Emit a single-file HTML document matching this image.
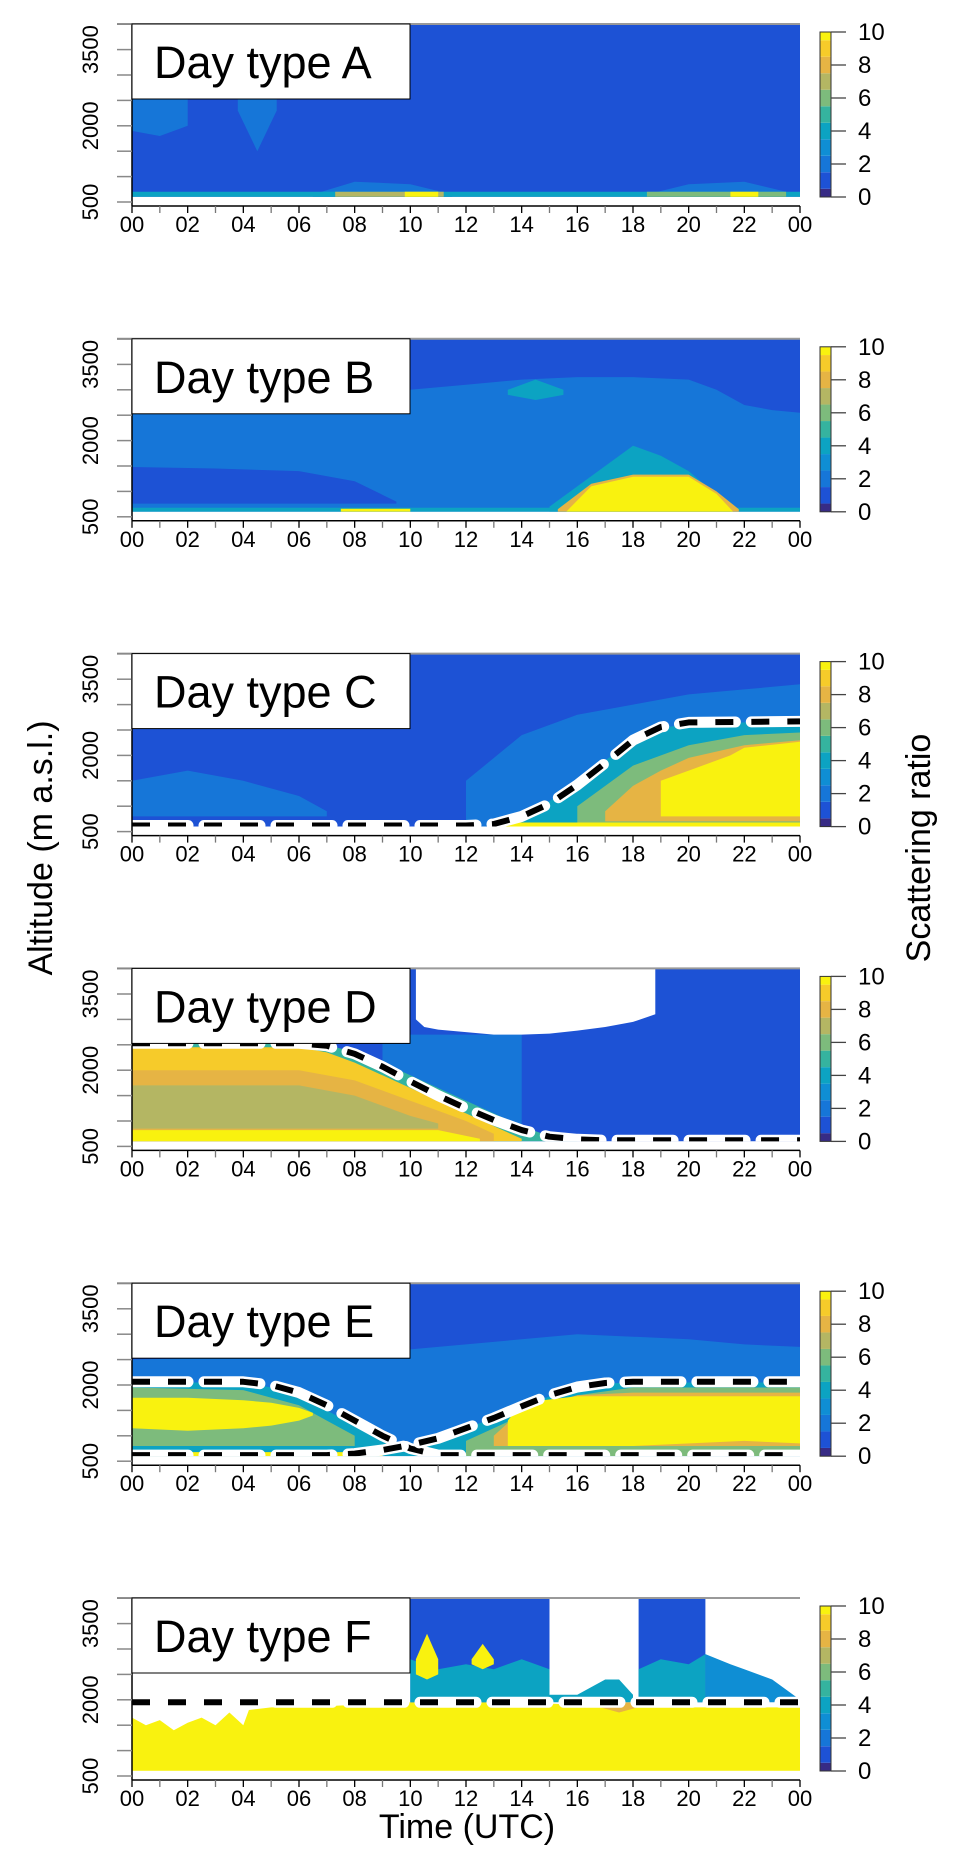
<!DOCTYPE html>
<html><head><meta charset="utf-8">
<style>
html,body{margin:0;padding:0;background:#fff;}
svg{display:block;font-family:"Liberation Sans",sans-serif;}
</style></head>
<body>
<svg id="chart" width="971" height="1872" viewBox="0 0 971 1872" xmlns="http://www.w3.org/2000/svg">
<text x="52" y="848" transform="rotate(-90 52 848)" text-anchor="middle" font-size="34">Altitude (m a.s.l.)</text>
<text x="930" y="848" transform="rotate(-90 930 848)" text-anchor="middle" font-size="34">Scattering ratio</text>
<text x="467" y="1838" text-anchor="middle" font-size="34">Time (UTC)</text>
</svg>
<script>
// ---- data ----
const panelNames = ["A","B","C","D","E","F"];
const hourTicks = [0,2,4,6,8,10,12,14,16,18,20,22,24];
const hourLabels = ["00","02","04","06","08","10","12","14","16","18","20","22","00"];
const altTicks = [500,1000,1500,2000,2500,3000,3500,4000];
const altLabels = [500,2000,3500];
const cbTicks = [0,2,4,6,8,10];
const colorLevels = ["#372b85","#1d52d5","#1676d8","#0f8ed4","#0ca3c2","#35b39f","#7dbb7c","#b4b663","#e6b444","#f6cb2a","#f9f20f"];
const backgroundValue = [1,1,1,1,1,null];

const layersA = [
 {v:2,t:[0,1,2],lo:[1900,1800,2000],hi:[2600,2600,2600]},
 {v:2,t:[3.8,4.5,5.2],lo:[2300,1500,2300],hi:[2600,2600,2600]},
 {v:2,t:[6.5,8,10,11.5],lo:[600,600,600,600],hi:[650,900,850,650]},
 {v:2,t:[18.5,20,22,23.5],lo:[600,600,600,600],hi:[650,850,900,700]},
 {v:4,t:[0,24],lo:[600,600],hi:[700,700]},
 {v:7,t:[7.3,11.2],lo:[600,600],hi:[700,700]},
 {v:10,t:[9.8,11],lo:[600,600],hi:[700,700]},
 {v:6,t:[18.5,23.5],lo:[600,600],hi:[700,700]},
 {v:10,t:[21.5,22.5],lo:[600,600],hi:[700,700]}
];
const layersB = [
 {v:2,t:[0,4,8,10,12,14,16,18,20,21,22,23,24],lo:[600,600,600,600,600,600,600,600,600,600,600,600,600],hi:[2550,2650,2900,3000,3100,3200,3250,3250,3200,3000,2700,2600,2550]},
 {v:1,t:[0,3,6,8,9.5],lo:[760,760,760,760,760],hi:[1480,1450,1400,1200,800]},
 {v:4,t:[13.5,14.5,15.5],lo:[2900,2800,2900],hi:[3000,3200,3000]},
 {v:4,t:[15,17,18,19,20,21.5],lo:[600,600,600,600,600,600],hi:[700,1500,1900,1700,1400,700]},
 {v:4,t:[0,24],lo:[600,600],hi:[680,680]},
 {v:8,t:[15.3,16.5,18,20,21,21.8],lo:[600,600,600,600,600,600],hi:[650,1150,1330,1330,1000,650]},
 {v:10,t:[15.6,16.5,18,20,21,21.6],lo:[600,600,600,600,600,600],hi:[600,1100,1290,1290,950,600]},
 {v:10,t:[7.5,10],lo:[600,600],hi:[660,660]}
];
const layersC = [
 {v:2,t:[0,2,4,6,7],lo:[800,800,800,800,800],hi:[1500,1700,1500,1200,900]},
 {v:2,t:[12,14,16,18,20,22,24],lo:[600,600,600,600,600,600,600],hi:[1500,2400,2800,3000,3200,3300,3400]},
 {v:4,t:[13,14,15,16,17,18,19,20,22,24],lo:[600,600,600,600,600,600,600,600,600,600],hi:[650,800,1100,1450,1900,2300,2550,2600,2650,2650]},
 {v:6,t:[16,18,20,22,24],lo:[600,600,600,600,600],hi:[1000,1800,2200,2400,2450]},
 {v:8,t:[17,18,19,20,22,24],lo:[700,700,700,700,700,700],hi:[900,1400,1700,1950,2200,2300]},
 {v:10,t:[19,20,21.5,22,24],lo:[800,800,800,800,800],hi:[1500,1700,2000,2150,2270]},
 {v:10,t:[13,24],lo:[600,600],hi:[680,680]}
];
const layersD = [
 {v:2,t:[9,12,14],lo:[600,600,600],hi:[2700,2700,2700]},
 {v:5,t:[0,6,7,8,9,10,11,12,13,14,15,16],lo:[600,600,600,600,600,600,600,600,600,600,600,600],hi:[2550,2550,2500,2350,2150,1900,1650,1400,1150,900,700,620]},
 {v:9,t:[0,6,7,8,9,10,11,12,13,14],lo:[600,600,600,600,600,600,600,600,600,600],hi:[2450,2450,2350,2150,1900,1650,1400,1150,900,650]},
 {v:8,t:[0,6,8,10,11,12,13],lo:[600,600,600,600,600,600,600],hi:[2000,2000,1800,1400,1200,1000,750]},
 {v:7,t:[0,6,8,9,10,11],lo:[850,850,850,850,850,850],hi:[1700,1700,1500,1300,1100,950]},
 {v:10,t:[0,11,12.5],lo:[600,600,600],hi:[820,820,650]},
 {v:null,t:[10.2,10.5,11,12,13,14,15,16,17,18,18.8],lo:[3000,2850,2800,2750,2700,2700,2720,2780,2850,2950,3100],hi:[4000,4000,4000,4000,4000,4000,4000,4000,4000,4000,4000]}
];
const layersE = [
 {v:2,t:[0,4,8,10,12,14,16,18,20,22,24],lo:[600,600,600,600,600,600,600,600,600,600,600],hi:[2500,2550,2600,2700,2800,2900,3000,2950,2900,2800,2750]},
 {v:4,t:[0,4,5,6,7,8,9,10],lo:[600,600,600,600,600,600,600,600],hi:[2050,2050,1950,1750,1500,1200,900,700]},
 {v:6,t:[0,4,6,7,8],lo:[800,800,800,800,800],hi:[1950,1900,1600,1300,1000]},
 {v:10,t:[0,2,4,5,6,6.5],lo:[1150,1100,1150,1200,1300,1400],hi:[1750,1750,1700,1650,1550,1450]},
 {v:4,t:[9,10,11,12,13,14,15,16,17,18,24],lo:[600,600,600,600,600,600,600,600,600,600,600],hi:[650,800,950,1150,1350,1550,1780,1950,2030,2050,2050]},
 {v:6,t:[12,14,16,18,24],lo:[600,600,600,600,600],hi:[900,1400,1800,1950,1950]},
 {v:8,t:[13,14,16,18,24],lo:[800,800,800,800,800],hi:[1000,1500,1800,1850,1850]},
 {v:10,t:[13.5,14,16,18,22,24],lo:[800,800,800,800,900,850],hi:[1300,1650,1780,1780,1780,1780]},
 {v:10,t:[0,9],lo:[600,600],hi:[680,680]}
];
const layersF = [
 {v:10,t:[0,0.5,1,1.5,2,2.5,3,3.5,4,4.2,5,6,8,10,12,14,16,18,20,22,24],lo:[600,600,600,600,600,600,600,600,600,600,600,600,600,600,600,600,600,600,600,600,600],hi:[1650,1500,1600,1400,1550,1650,1500,1750,1500,1800,1850,1850,1900,1950,1950,1950,1900,1850,1850,1850,1850]},
 {v:8,t:[16.5,17.5,18.5],lo:[1900,1750,1900],hi:[1950,1950,1950]},
 {v:1,t:[10,15],lo:[1950,1950],hi:[4000,4000]},
 {v:4,t:[10,11,12,13,14,15],lo:[1950,1950,1950,1950,1950,1950],hi:[2800,2600,2700,2600,2800,2600]},
 {v:10,t:[10.2,10.6,11],lo:[2500,2400,2500],hi:[2800,3300,2800]},
 {v:10,t:[12.2,12.6,13],lo:[2700,2600,2700],hi:[2800,3100,2800]},
 {v:4,t:[15,16,17,17.5,18],lo:[1950,1950,1950,1950,1950],hi:[2100,2100,2400,2400,2100]},
 {v:1,t:[18.2,20.6],lo:[1950,1950],hi:[4000,4000]},
 {v:4,t:[18.2,19,20,20.6],lo:[1950,1950,1950,1950],hi:[2600,2800,2700,2900]},
 {v:3,t:[20.6,21.5,22,23,23.5,24],lo:[1950,1950,1950,1950,1950,1950],hi:[2900,2700,2600,2400,2200,2000]}
];
const panelLayers = [layersA,layersB,layersC,layersD,layersE,layersF];

const lineC_t = [0,12,13,14,15,16,17,18,19,20,24];
const lineC_alt = [620,620,650,800,1050,1420,1850,2300,2560,2650,2670];
const lineD_t = [0,6,7,8,9,10,11,12,13,14,15,16,17,24];
const lineD_alt = [2530,2530,2480,2320,2070,1780,1500,1250,1020,820,690,640,620,620];
const lineE1_t = [0,4,5,6,7,8,9,10,11,24];
const lineE1_alt = [2063,2063,2000,1850,1600,1300,1000,750,620,620];
const lineE2_t = [0,7,8,9,10,11,12,13,14,15,16,17,18,24];
const lineE2_alt = [620,620,650,720,820,950,1150,1350,1580,1800,1960,2040,2063,2063];
const lineF_t = [0,24];
const lineF_alt = [1950,1950];
const panelLines = [[],[],[[lineC_t,lineC_alt]],[[lineD_t,lineD_alt]],[[lineE1_t,lineE1_alt],[lineE2_t,lineE2_alt]],[[lineF_t,lineF_alt]]];

// ---- layout ----
const NS="http://www.w3.org/2000/svg";
const svg=document.getElementById('chart');
const X0=132,X1=800,PH=314.8;
function panelTop(p){return 24+p*PH;}
function X(h){return X0+h*(X1-X0)/24;}
function Y(p,a){return panelTop(p)+178-(a-500)*0.0508;}
function CBY(p,v){return panelTop(p)+173-v*16.5;}
function col(v){return colorLevels[Math.max(0,Math.min(10,Math.round(v)))];}
function mk(tag,attrs,parent){const e=document.createElementNS(NS,tag);for(const k in attrs)e.setAttribute(k,attrs[k]);(parent||svg).appendChild(e);return e;}

panelNames.forEach((nm,p)=>{
  const T=panelTop(p);
  const g=mk('g',{});
  
  
  const cp=mk('clipPath',{id:'clip'+p},g);
  mk('rect',{x:X0,y:Y(p,4000),width:X1-X0,height:Y(p,600)-Y(p,4000)},cp);
  const hm=mk('g',{'clip-path':'url(#clip'+p+')'},g);
  
  
  if(backgroundValue[p]!==null){
    const r=mk('rect',{x:X(0),y:Y(p,4000),width:X(24)-X(0),height:Y(p,600)-Y(p,4000),fill:col(backgroundValue[p])},hm);
    
    
  }
  panelLayers[p].forEach((L,i)=>{
    let pts=[];
    for(let j=0;j<L.t.length;j++)pts.push(X(L.t[j]).toFixed(1)+','+Y(p,L.hi[j]).toFixed(1));
    for(let j=L.t.length-1;j>=0;j--)pts.push(X(L.t[j]).toFixed(1)+','+Y(p,L.lo[j]).toFixed(1));
    const poly=mk('polygon',{points:pts.join(' '),fill:L.v===null?'#ffffff':col(L.v)},hm);
    
    
  });
  panelLines[p].forEach(([ts,as])=>{
    const d=ts.map((t,j)=>(j?'L':'M')+X(t).toFixed(1)+','+Y(p,as[j]).toFixed(1)).join(' ');
    mk('path',{d:d,fill:'none',stroke:'#fff','stroke-width':11,'stroke-dasharray':'56 16','stroke-linecap':'round','stroke-linejoin':'round'},hm);
    const bl=mk('path',{d:d,fill:'none',stroke:'#000','stroke-width':6,'stroke-dasharray':'18 18','stroke-linejoin':'round'},hm);
    
    
  });
  mk('line',{x1:117,y1:T,x2:X1,y2:T,stroke:'#999','stroke-width':2},g);
  mk('line',{x1:X0,y1:T,x2:X0,y2:T+182,stroke:'#000','stroke-width':1.5},g);
  const xa=mk('line',{x1:X0,y1:T+182,x2:X1,y2:T+182,stroke:'#000','stroke-width':1.5},g);
  
  
  for(let h=0;h<=24;h++)mk('line',{x1:X(h),y1:T+182,x2:X(h),y2:T+189,stroke:h%2?'#777':'#000','stroke-width':1.3},g);
  hourTicks.forEach((h,i)=>{
    const tx=mk('text',{x:X(h),y:T+208,'text-anchor':'middle','font-size':22},g);
    tx.textContent=hourLabels[i];
    
    
  });
  altTicks.forEach(a=>mk('line',{x1:117,y1:Y(p,a),x2:X0,y2:Y(p,a),stroke:'#888','stroke-width':1.5},g));
  altLabels.forEach(a=>{
    const y=Y(p,a);
    const tx=mk('text',{x:98,y:y,'text-anchor':'middle','font-size':22,transform:'rotate(-90 98 '+y+')'},g);
    tx.textContent=a;
    
    
  });
  const box=mk('rect',{x:X0,y:T,width:278,height:75,fill:'#fff',stroke:'#000','stroke-width':1},g);
  
  
  const lt=mk('text',{x:154,y:T+54,'font-size':45},g);
  lt.textContent='Day type '+nm;
  
  
  const cb=mk('g',{},g);
  
  
  for(let v=0;v<=10;v++){
    const y1=CBY(p,Math.min(10,v+0.5)),y2=CBY(p,Math.max(0,v-0.5));
    mk('rect',{x:820,y:y1,width:11,height:y2-y1,fill:colorLevels[v]},cb);
  }
  mk('rect',{x:820,y:CBY(p,10),width:11,height:CBY(p,0)-CBY(p,10),fill:'none',stroke:'#333','stroke-width':1},cb);
  cbTicks.forEach(v=>{
    mk('line',{x1:831,y1:CBY(p,v),x2:846,y2:CBY(p,v),stroke:'#444','stroke-width':1.3},cb);
    const tx=mk('text',{x:858,y:CBY(p,v)+8,'font-size':24},cb);
    tx.textContent=v;
    
    
  });
});
</script>
</body></html>
